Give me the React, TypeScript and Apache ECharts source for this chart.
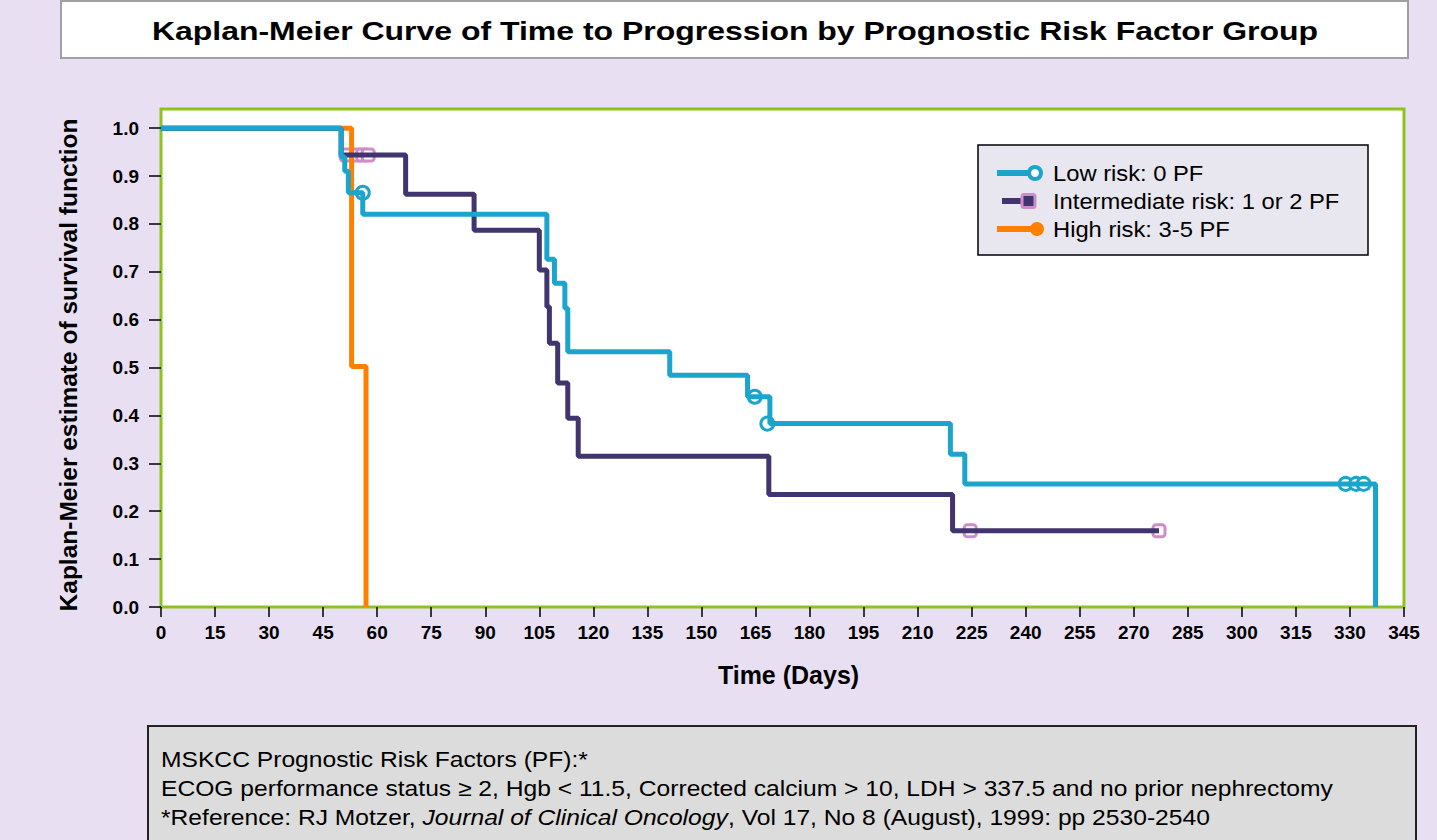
import React, { useEffect, useRef } from "react";
import * as echarts from "echarts";

// ---- Data ----
const yTicks = [0, 0.1, 0.2, 0.3, 0.4, 0.5, 0.6, 0.7, 0.8, 0.9, 1.0];

const lowRiskTimes = [0, 50, 51, 52, 56, 107.1, 109.2, 112.1, 112.9, 141.2, 162.8, 169.0, 219.1, 223.1, 337.1];
const lowRiskSurvival = [1, 0.94, 0.91, 0.865, 0.82, 0.726, 0.676, 0.624, 0.533, 0.484, 0.439, 0.383, 0.319, 0.257, 0];
const lowRiskCensorTimes = [56, 164.8, 168.3, 328.8, 331.7, 333.8];
const lowRiskCensorSurvival = [0.865, 0.439, 0.383, 0.257, 0.257, 0.257];

const intRiskTimes = [0, 50, 67.9, 86.9, 105, 107.1, 107.8, 110.1, 112.9, 115.8, 168.7, 219.7, 277];
const intRiskSurvival = [1, 0.944, 0.862, 0.787, 0.704, 0.627, 0.551, 0.468, 0.394, 0.315, 0.235, 0.159, 0.159];
const intRiskCensorTimes = [51.4, 54.4, 56, 57.5, 224.6, 277];
const intRiskCensorSurvival = [0.944, 0.944, 0.944, 0.944, 0.159, 0.159];

const highRiskTimes = [0, 52.9, 56.9];
const highRiskSurvival = [1, 0.502, 0];

const seriesNames = ["Low risk: 0 PF", "Intermediate risk: 1 or 2 PF", "High risk: 3-5 PF"];
const titleText = "Kaplan-Meier Curve of Time to Progression by Prognostic Risk Factor Group";
const xAxisName = "Time (Days)";
const yAxisName = "Kaplan-Meier estimate of survival function";
const footLines = [
  "MSKCC Prognostic Risk Factors (PF):*",
  "ECOG performance status \u2265 2, Hgb < 11.5, Corrected calcium > 10, LDH > 337.5 and no prior nephrectomy",
  "*Reference: RJ Motzer, {i|Journal of Clinical Oncology}, Vol 17, No 8 (August), 1999: pp 2530-2540",
];

const CYAN = "#1CA5CC";
const PURPLE = "#41346F";
const ORANGE = "#FF8000";
const PINK = "#D08CC8";
const FONT = '"Liberation Sans", Arial, Helvetica, sans-serif';

const zip = (a: number[], b: number[]) => a.map((v, i) => [v, b[i]]);

export default function App() {
  const ref = useRef<HTMLDivElement>(null);
  useEffect(() => {
    const chart = echarts.init(ref.current!, null, { renderer: "svg" });
    const lineBase = {
      type: "line",
      step: "end",
      showSymbol: false,
      symbol: "none",
      silent: true,
      clip: true,
    };
    const legendRows = [173, 201, 229];
    chart.setOption({
      animation: false,
      backgroundColor: "#E8E0F2",
      grid: {
        left: 161,
        right: 33,
        top: 109,
        bottom: 233,
        show: true,
        backgroundColor: "#FFFFFF",
        borderColor: "#8DC21F",
        borderWidth: 3,
      },
      xAxis: {
        type: "value",
        min: 0,
        max: 345,
        interval: 15,
        name: xAxisName,
        nameLocation: "middle",
        nameGap: 55,
        nameTextStyle: { fontFamily: FONT, fontWeight: "bold", fontSize: 25, color: "#000", padding: [0, 0, 0, 12] },
        axisLine: { show: false },
        axisTick: { show: true, length: 10, lineStyle: { color: "#000", width: 1.5 } },
        axisLabel: { margin: 16, fontFamily: FONT, fontWeight: "bold", fontSize: 19, color: "#000" },
        splitLine: { show: false },
      },
      yAxis: {
        type: "value",
        min: 0,
        max: 1.04,
        name: yAxisName,
        nameLocation: "middle",
        nameGap: 80,
        nameTextStyle: { fontFamily: FONT, fontWeight: "bold", fontSize: 24.5, color: "#000", padding: [0, 14, 0, 0] },
        axisLine: { show: false },
        axisTick: { show: true, length: 12, customValues: yTicks, lineStyle: { color: "#000", width: 1.5 } },
        axisLabel: {
          margin: 22,
          customValues: yTicks,
          formatter: (v: number) => v.toFixed(1),
          fontFamily: FONT,
          fontWeight: "bold",
          fontSize: 19,
          color: "#000",
        },
        splitLine: { show: false },
      },
      series: [
        { ...lineBase, name: seriesNames[2], data: zip(highRiskTimes, highRiskSurvival), lineStyle: { color: ORANGE, width: 5 }, itemStyle: { color: ORANGE } },
        { ...lineBase, name: seriesNames[1], data: zip(intRiskTimes, intRiskSurvival), lineStyle: { color: PURPLE, width: 5 }, itemStyle: { color: PURPLE } },
        { ...lineBase, name: seriesNames[0], data: zip(lowRiskTimes, lowRiskSurvival), lineStyle: { color: CYAN, width: 5 }, itemStyle: { color: CYAN } },
        {
          type: "scatter",
          name: seriesNames[1] + " censored",
          data: zip(intRiskCensorTimes, intRiskCensorSurvival),
          symbol: "roundRect",
          symbolSize: 12,
          silent: true,
          itemStyle: { color: "#FFFFFF", borderColor: PINK, borderWidth: 3, opacity: 1 },
        },
        {
          type: "scatter",
          name: seriesNames[0] + " censored",
          data: zip(lowRiskCensorTimes, lowRiskCensorSurvival),
          symbol: "circle",
          symbolSize: 13,
          silent: true,
          itemStyle: { color: "#FFFFFF", borderColor: CYAN, borderWidth: 3, opacity: 1 },
        },
      ],
      graphic: [
        // Title box
        { type: "rect", shape: { x: 61, y: 1, width: 1347, height: 57 }, style: { fill: "#FFFFFF", stroke: "#A0A0A0", lineWidth: 2 }, z: 10 },
        { type: "text", x: 735, y: 31, scaleX: 1.23, z: 11, style: { text: titleText, fill: "#000", font: `bold 26px ${FONT}`, align: "center", verticalAlign: "middle" } },
        // Legend box
        { type: "rect", shape: { x: 978, y: 145, width: 390, height: 110 }, style: { fill: "#E8E6EE", stroke: "#000", lineWidth: 1.5 }, z: 100 },
        { type: "line", shape: { x1: 997, y1: legendRows[0], x2: 1032, y2: legendRows[0] }, style: { stroke: CYAN, lineWidth: 6 }, z: 101 },
        { type: "circle", shape: { cx: 1035, cy: legendRows[0], r: 6 }, style: { fill: "#FFFFFF", stroke: CYAN, lineWidth: 4 }, z: 102 },
        { type: "line", shape: { x1: 1002, y1: legendRows[1], x2: 1024, y2: legendRows[1] }, style: { stroke: PURPLE, lineWidth: 6 }, z: 101 },
        { type: "rect", shape: { x: 1022, y: legendRows[1] - 6.5, width: 13, height: 13, r: 2 }, style: { fill: PURPLE, stroke: PINK, lineWidth: 3 }, z: 102 },
        { type: "line", shape: { x1: 997, y1: legendRows[2], x2: 1034, y2: legendRows[2] }, style: { stroke: ORANGE, lineWidth: 6 }, z: 101 },
        { type: "circle", shape: { cx: 1037, cy: legendRows[2], r: 7 }, style: { fill: ORANGE }, z: 102 },
        ...seriesNames.map((n, i) => ({
          type: "text",
          x: 1053,
          y: legendRows[i],
          scaleX: 1.08,
          z: 103,
          style: { text: n, fill: "#000", font: `22px ${FONT}`, align: "left", verticalAlign: "middle" },
        })),
        // Footnote box
        { type: "rect", shape: { x: 148, y: 726, width: 1268, height: 130 }, style: { fill: "#DCDCDC", stroke: "#222", lineWidth: 2 }, z: 10 },
        ...footLines.map((t, i) => ({
          type: "text",
          x: 161,
          y: 759 + i * 29,
          scaleX: 1.12,
          z: 11,
          style: {
            text: t,
            fill: "#000",
            fontSize: 22,
            fontFamily: FONT,
            align: "left",
            verticalAlign: "middle",
            rich: { i: { fontStyle: "italic", fontSize: 22, fontFamily: FONT, fill: "#000" } },
          },
        })),
      ],
    });
    return () => chart.dispose();
  }, []);
  return <div ref={ref} style={{ position: "fixed", left: 0, top: 0, width: 1437, height: 840 }} />;
}
